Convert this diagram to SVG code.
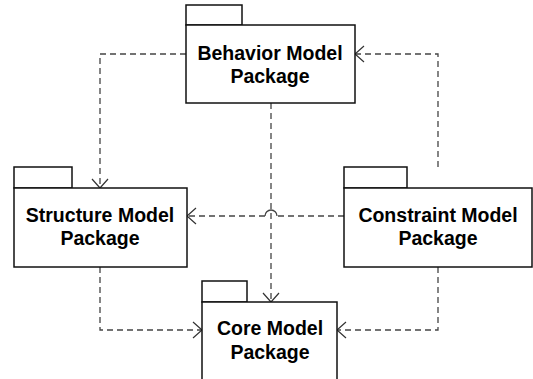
<svg xmlns="http://www.w3.org/2000/svg" width="533" height="379" viewBox="0 0 533 379">
<style>
.box{fill:#fff;stroke:#111;stroke-width:1.5}
.lbl{font-family:"Liberation Sans",Arial,sans-serif;font-weight:bold;font-size:19.5px;fill:#000;text-anchor:middle}
.dep{fill:none;stroke:#444;stroke-width:1.3;stroke-dasharray:6,4}
.hop{fill:none;stroke:#444;stroke-width:1.3}
</style>
<defs>
<marker id="open" markerUnits="userSpaceOnUse" markerWidth="12" markerHeight="18" refX="10" refY="9" orient="auto" viewBox="0 0 12 18">
<path d="M1,1 L10,9 L1,17" fill="none" stroke="#333" stroke-width="1.2"/>
</marker>
</defs>
<rect width="533" height="379" fill="#fff"/>
<g id="connectors">
<path class="dep" d="M186,54 H100 V188" marker-end="url(#open)"/>
<path class="dep" d="M438,167 V54 H355" marker-end="url(#open)"/>
<path class="dep" d="M271,103 V302" marker-end="url(#open)"/>
<path class="dep" d="M344,216 H277"/>
<path class="hop" d="M277,216 A6,6 0 0 0 265,216"/>
<path class="dep" d="M265,216 H187" marker-end="url(#open)"/>
<path class="dep" d="M100,267 V330 H202" marker-end="url(#open)"/>
<path class="dep" d="M438,267 V330 H337" marker-end="url(#open)"/>
</g>
<g id="behavior">
<rect class="box" x="186" y="5" width="56" height="20"/>
<rect class="box" x="186" y="25" width="169" height="78"/>
<text class="lbl" x="270" y="60">Behavior Model</text>
<text class="lbl" x="270" y="83">Package</text>
</g>
<g id="structure">
<rect class="box" x="14" y="167" width="58" height="21"/>
<rect class="box" x="14" y="188" width="173" height="79"/>
<text class="lbl" x="100" y="222">Structure Model</text>
<text class="lbl" x="100" y="245">Package</text>
</g>
<g id="constraint">
<rect class="box" x="344" y="167" width="63" height="21"/>
<rect class="box" x="344" y="188" width="188" height="79"/>
<text class="lbl" x="438" y="222">Constraint Model</text>
<text class="lbl" x="438" y="245">Package</text>
</g>
<g id="core">
<rect class="box" x="202" y="281" width="45" height="21"/>
<rect class="box" x="202" y="302" width="135" height="90"/>
<text class="lbl" x="270" y="335">Core Model</text>
<text class="lbl" x="270" y="359">Package</text>
</g>
</svg>
